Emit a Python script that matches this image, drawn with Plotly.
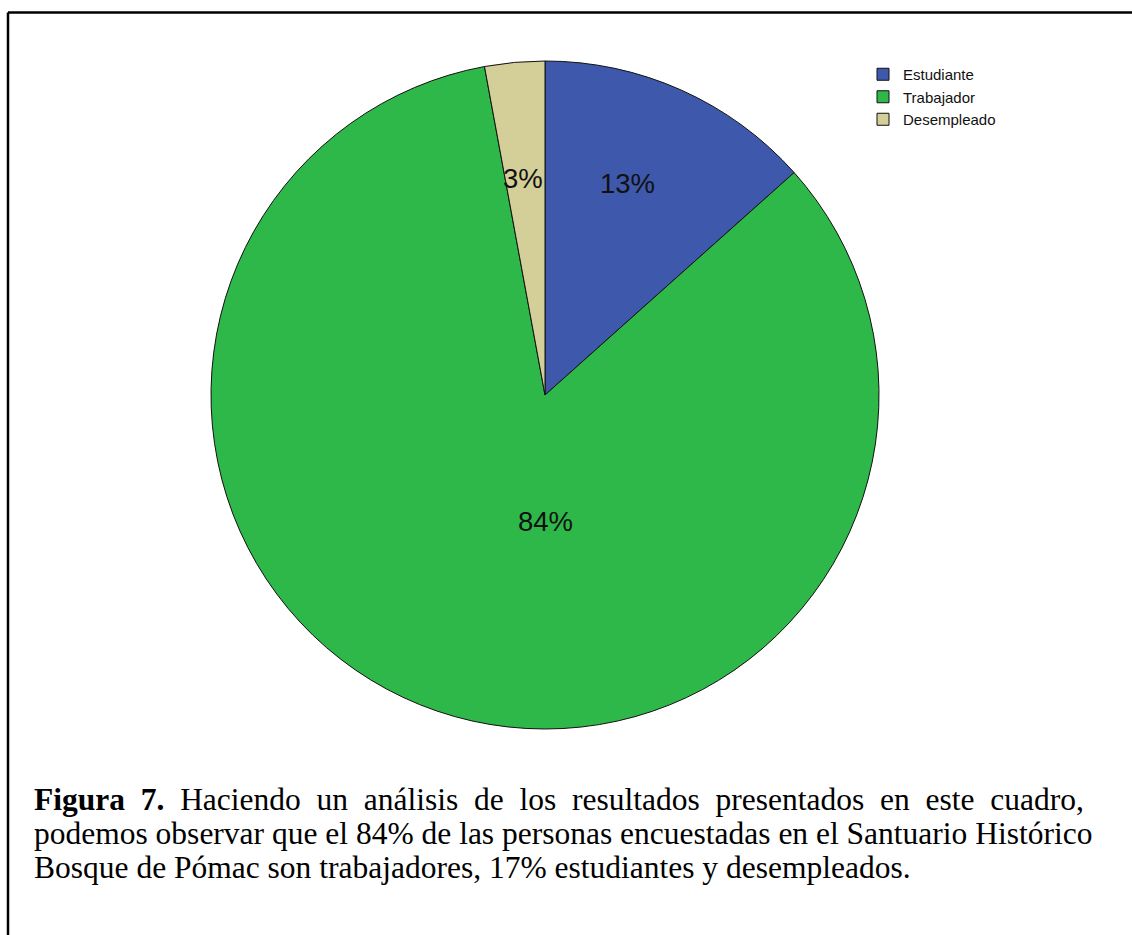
import math
import plotly.graph_objects as go

# ---- data ----
categories = ["Estudiante", "Trabajador", "Desempleado"]
values = [13.4, 83.7, 2.9]
colors = ["#3E58AC", "#2EB84A", "#D4CE98"]
caption_lines = [
    "<b>Figura 7.</b> Haciendo un análisis de los resultados presentados en este cuadro,",
    "podemos observar que el 84% de las personas encuestadas en el Santuario Histórico",
    "Bosque de Pómac son trabajadores, 17% estudiantes y desempleados.",
]

# ---- layout geometry (pixels) ----
W, H = 1132, 935
cx, cy, R = 545, 395, 334
# label placement: (angle offset from slice middle in deg, radius fraction)
label_style = [(-2.7, 0.68), (-19.0, 0.38), (-0.5, 0.65)]

fig = go.Figure()
fig.add_trace(go.Pie(
    labels=categories,
    values=values,
    sort=False,
    direction="clockwise",
    rotation=0,
    marker=dict(colors=colors, line=dict(color="#111111", width=1)),
    textinfo="none",
    hoverinfo="label+percent",
    domain=dict(x=[(cx - R) / W, (cx + R) / W],
                y=[(H - cy - R) / H, (H - cy + R) / H]),
))

# percentage labels, computed from the values
total = sum(values)
cum = 0.0
for v, (doff, rf) in zip(values, label_style):
    mid = (cum + v / 2) / total * 360 + doff
    cum += v
    px = cx + math.sin(math.radians(mid)) * R * rf
    py = cy - math.cos(math.radians(mid)) * R * rf
    fig.add_annotation(
        x=px / W, y=1 - py / H, xref="paper", yref="paper",
        text=f"{round(v / total * 100)}%", showarrow=False,
        font=dict(family="Liberation Sans, Arial", size=27.5, color="#111111"),
        xanchor="center", yanchor="middle",
    )

# caption (first line justified by widening the word gaps)
line_y = [799, 833, 867]
for i, (t, yy) in enumerate(zip(caption_lines, line_y)):
    if i == 0:
        t = t.replace(" ", " \u00a0")
    fig.add_annotation(
        x=32 / W, y=1 - yy / H, xref="paper", yref="paper",
        text=t, showarrow=False, xanchor="left", yanchor="middle",
        font=dict(family="Liberation Serif, Times New Roman", size=31.5, color="#000000"),
    )

# frame lines (top and left)
fig.add_shape(type="line", xref="paper", yref="paper",
              x0=8 / W, x1=1, y0=1 - 12.5 / H, y1=1 - 12.5 / H,
              line=dict(color="#000000", width=2.5))
fig.add_shape(type="line", xref="paper", yref="paper",
              x0=8 / W, x1=8 / W, y0=0, y1=1 - 12.5 / H,
              line=dict(color="#000000", width=2.5))

fig.update_layout(
    width=W, height=H,
    margin=dict(l=0, r=0, t=0, b=0),
    paper_bgcolor="white", plot_bgcolor="white",
    showlegend=True,
    legend=dict(x=863 / W, y=1 - 58 / H, xanchor="left", yanchor="top",
                font=dict(family="Liberation Sans, Arial", size=15, color="#111111"),
                bgcolor="rgba(0,0,0,0)", tracegroupgap=0),
)

fig.write_html("out.html", config={"displayModeBar": False},
               post_script="document.body.style.margin='0';")
